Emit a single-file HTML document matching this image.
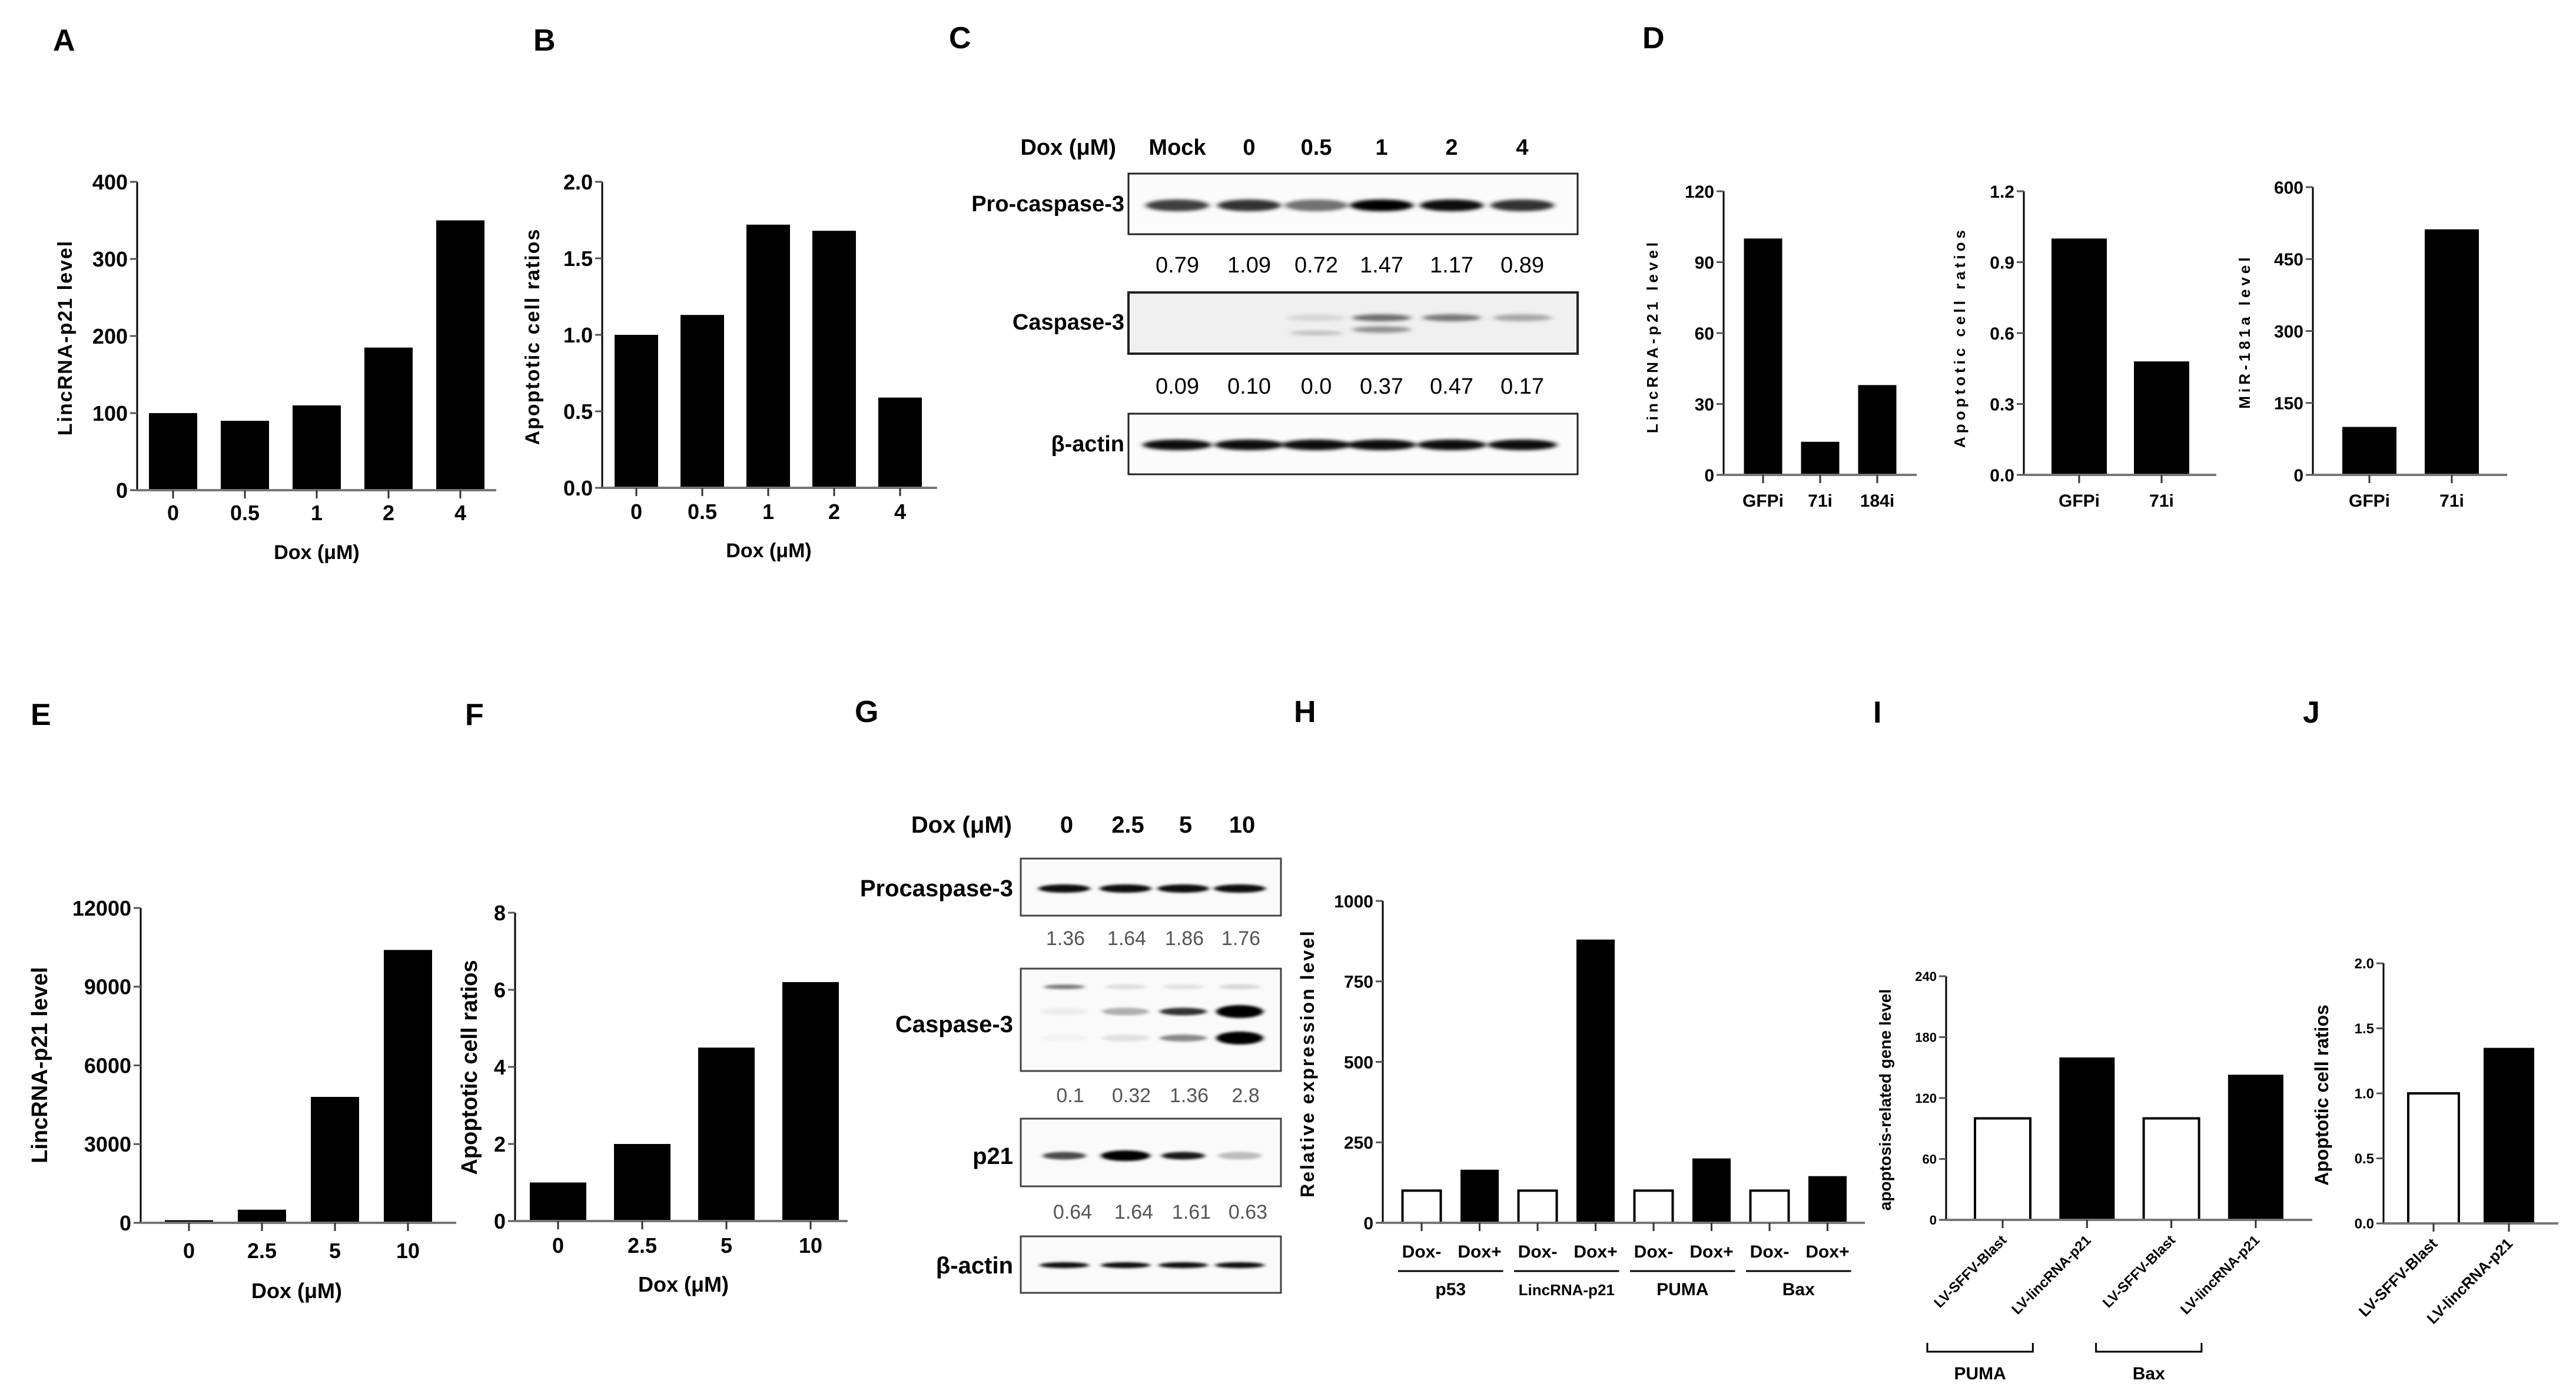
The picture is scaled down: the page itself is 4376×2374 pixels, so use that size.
<!DOCTYPE html>
<html><head><meta charset="utf-8">
<style>
html,body{margin:0;padding:0;background:#fff}
svg{display:block}
.nar{font-family:"Liberation Sans",sans-serif;font-weight:bold}
.reg{font-family:"Liberation Sans",sans-serif;font-weight:bold}
</style></head>
<body>
<svg id="fig" xmlns="http://www.w3.org/2000/svg" width="4376" height="2374" viewBox="0 0 4376 2374">
<defs>
<filter id="blur" x="-20%" y="-100%" width="140%" height="300%"><feGaussianBlur stdDeviation="5 3"/></filter>
<filter id="blur2" x="-20%" y="-100%" width="140%" height="300%"><feGaussianBlur stdDeviation="4 2"/></filter>
</defs>
<g class="reg" font-size="52">
<text x="90" y="86">A</text>
<text x="906" y="86">B</text>
<text x="1612" y="82">C</text>
<text x="2790" y="82">D</text>
<text x="52" y="1232">E</text>
<text x="790" y="1232">F</text>
<text x="1452" y="1227">G</text>
<text x="2198" y="1227">H</text>
<text x="3182" y="1228">I</text>
<text x="3912" y="1228">J</text>
</g>
<g id="charts"></g>
<g id="blots"></g>
</svg>
<script>
// ---- Data arrays ----
const catsA = ["0","0.5","1","2","4"];
const valsA = [100, 90, 110, 185, 350];
const ticksA = [0,100,200,300,400];
const catsB = ["0","0.5","1","2","4"];
const valsB = [1.0, 1.13, 1.72, 1.68, 0.59];
const ticksB = ["0.0","0.5","1.0","1.5","2.0"];
const catsD1 = ["GFPi","71i","184i"];
const valsD1 = [100, 14, 38];
const ticksD1 = [0,30,60,90,120];
const catsD2 = ["GFPi","71i"];
const valsD2 = [1.0, 0.48];
const ticksD2 = ["0.0","0.3","0.6","0.9","1.2"];
const catsD3 = ["GFPi","71i"];
const valsD3 = [100, 512];
const ticksD3 = [0,150,300,450,600];
const catsE = ["0","2.5","5","10"];
const valsE = [100, 500, 4800, 10400];
const ticksE = [0,3000,6000,9000,12000];
const catsF = ["0","2.5","5","10"];
const valsF = [1.0, 2.0, 4.5, 6.2];
const ticksF = [0,2,4,6,8];
const catsH = ["Dox-","Dox+","Dox-","Dox+","Dox-","Dox+","Dox-","Dox+"];
const valsH = [100, 165, 100, 880, 100, 200, 100, 145];
const groupsH = ["p53","LincRNA-p21","PUMA","Bax"];
const ticksH = [0,250,500,750,1000];
const catsI = ["LV-SFFV-Blast","LV-lincRNA-p21","LV-SFFV-Blast","LV-lincRNA-p21"];
const valsI = [100, 160, 100, 143];
const groupsI = ["PUMA","Bax"];
const ticksI = [0,60,120,180,240];
const catsJ = ["LV-SFFV-Blast","LV-lincRNA-p21"];
const valsJ = [1.0, 1.35];
const ticksJ = ["0.0","0.5","1.0","1.5","2.0"];
const lanesC = ["Mock","0","0.5","1","2","4"];
const quantC1 = ["0.79","1.09","0.72","1.47","1.17","0.89"];
const quantC2 = ["0.09","0.10","0.0","0.37","0.47","0.17"];
const lanesG = ["0","2.5","5","10"];
const quantG1 = ["1.36","1.64","1.86","1.76"];
const quantG2 = ["0.1","0.32","1.36","2.8"];
const quantG3 = ["0.64","1.64","1.61","0.63"];

const NS="http://www.w3.org/2000/svg";
function el(tag, attrs, parent, txt){
  const e=document.createElementNS(NS,tag);
  for(const k in attrs) e.setAttribute(k, attrs[k]);
  if(txt!==undefined) e.textContent=txt;
  parent.appendChild(e); return e;
}
const charts=document.getElementById('charts');

function barChart(o){
  const g=el('g',{class:o.cls},charts);
  
  
  const tmax=parseFloat(o.ticks[o.ticks.length-1]);
  const y=v=>o.yBot-(v/tmax)*(o.yBot-o.yTop);
  const x=i=>o.first+i*o.step;
  o.vals.forEach((v,i)=>{
    const fill=o.fills?o.fills[i%o.fills.length]:'#000';
    const r=el('rect',{x:x(i)-o.bw/2,y:y(v),width:o.bw,height:o.yBot-y(v),fill:fill,stroke:'#000','stroke-width':fill==='#fff'?4:0},g);
    
    
  });
  const ya=el('line',{x1:o.axisX,y1:o.yTop,x2:o.axisX,y2:o.yBot,stroke:'#000','stroke-width':3},g);
  
  
  const xa=el('line',{x1:o.axisX,y1:o.yBot,x2:o.xEnd,y2:o.yBot,stroke:'#777','stroke-width':4},g);
  
  
  o.ticks.forEach(t=>{
    const yy=y(parseFloat(t));
    el('line',{x1:o.axisX-12,y1:yy,x2:o.axisX,y2:yy,stroke:'#555','stroke-width':3},g);
    const tl=el('text',{x:o.axisX-16,y:yy+o.tf*0.36,'text-anchor':'end','font-size':o.tf},g,String(t));
    
    
  });
  o.cats.forEach((c,i)=>{
    el('line',{x1:x(i),y1:o.yBot,x2:x(i),y2:o.yBot+14,stroke:'#333','stroke-width':3},g);
    let t;
    if(o.rot){
      t=el('text',{x:x(i)+8,y:o.yBot+36,'text-anchor':'end','font-size':o.xf,transform:`rotate(-45 ${x(i)+8} ${o.yBot+36})`},g,c);
    } else {
      t=el('text',{x:x(i),y:o.xly+o.xf*0.36,'text-anchor':'middle','font-size':o.xf},g,c);
    }
    
    
  });
  if(o.xtitle){
    const t=el('text',{x:o.xtx,y:o.xty+o.xtf*0.36,'text-anchor':'middle','font-size':o.xtf},g,o.xtitle);
    
    
  }
  const yt=el('text',{x:o.ytx,y:o.yty,'text-anchor':'middle','font-size':o.ytf,transform:`rotate(-90 ${o.ytx} ${o.yty})`,'letter-spacing':o.ls||0},g,o.ytitle);
  
  
  return {g,x,y};
}

barChart({name:'chart-a',cls:'nar',cats:catsA,vals:valsA,ticks:ticksA,axisX:233,yTop:309,yBot:833,xEnd:843,first:294,step:122,bw:82,tf:36,xf:36,xly:871,xtitle:'Dox (μM)',xtx:538,xty:938,xtf:34,ytitle:'LincRNA-p21 level',ytx:122,yty:574,ytf:34,ls:2});
barChart({name:'chart-b',cls:'nar',cats:catsB,vals:valsB,ticks:ticksB,axisX:1023,yTop:309,yBot:829,xEnd:1592,first:1081,step:112,bw:74,tf:36,xf:36,xly:869,xtitle:'Dox (μM)',xtx:1306,xty:935,xtf:34,ytitle:'Apoptotic cell ratios',ytx:916,yty:572,ytf:34,ls:2});
barChart({name:'chart-d-lincrna',cls:'nar',cats:catsD1,vals:valsD1,ticks:ticksD1,axisX:2928,yTop:325,yBot:807,xEnd:3256,first:2995,step:97,bw:65,tf:30,xf:30,xly:850,ytitle:'LincRNA-p21 level',ytx:2816,yty:571,ytf:26,ls:6});
barChart({name:'chart-d-apoptotic',cls:'nar',cats:catsD2,vals:valsD2,ticks:ticksD2,axisX:3438,yTop:325,yBot:807,xEnd:3765,first:3532,step:140,bw:94,tf:30,xf:30,xly:850,ytitle:'Apoptotic cell ratios',ytx:3338,yty:573,ytf:26,ls:6});
barChart({name:'chart-d-mir181a',cls:'nar',cats:catsD3,vals:valsD3,ticks:ticksD3,axisX:3929,yTop:318,yBot:807,xEnd:4259,first:4025,step:140,bw:92,tf:30,xf:30,xly:850,ytitle:'MiR-181a level',ytx:3822,yty:563,ytf:26,ls:6});
barChart({name:'chart-e',cls:'reg',cats:catsE,vals:valsE,ticks:ticksE,axisX:239,yTop:1543,yBot:2078,xEnd:775,first:321,step:124,bw:82,tf:36,xf:36,xly:2125,xtitle:'Dox (μM)',xtx:504,xty:2193,xtf:36,ytitle:'LincRNA-p21 level',ytx:80,yty:1810,ytf:38});
barChart({name:'chart-f',cls:'reg',cats:catsF,vals:valsF,ticks:ticksF,axisX:875,yTop:1551,yBot:2075,xEnd:1440,first:948,step:143,bw:96,tf:36,xf:36,xly:2116,xtitle:'Dox (μM)',xtx:1161,xty:2182,xtf:36,ytitle:'Apoptotic cell ratios',ytx:810,yty:1814,ytf:38});
const hC=barChart({name:'chart-h',cls:'nar',cats:catsH,vals:valsH,ticks:ticksH,fills:['#fff','#000'],axisX:2349,yTop:1531,yBot:2078,xEnd:3168,first:2415,step:98.5,bw:65,tf:30,xf:30,xly:2126,ytitle:'Relative expression level',ytx:2232,yty:1807,ytf:32,ls:3});
groupsH.forEach((gname,k)=>{
  const x1=hC.x(2*k)-40, x2=hC.x(2*k+1)+40;
  el('line',{x1:x1,y1:2160,x2:x2,y2:2160,stroke:'#000','stroke-width':3},hC.g);
  const t=el('text',{x:(x1+x2)/2,y:2201,'text-anchor':'middle','font-size':k===1?26:30},hC.g,gname);
  
  
});
const iC=barChart({name:'chart-i',cls:'reg',rot:true,cats:catsI,vals:valsI,ticks:ticksI,fills:['#fff','#000'],axisX:3306,yTop:1659,yBot:2073,xEnd:3928,first:3402,step:143.3,bw:94,tf:22,xf:24,ytitle:'apoptosis-related gene level',ytx:3212,yty:1869,ytf:28});
groupsI.forEach((gname,k)=>{
  const x1=iC.x(2*k)-128, x2=iC.x(2*k+1)-92;
  el('path',{d:`M${x1} 2282 V2297 H${x2} V2282`,fill:'none',stroke:'#000','stroke-width':3},iC.g);
  const t=el('text',{x:(x1+x2)/2,y:2344,'text-anchor':'middle','font-size':30},iC.g,gname);
  
  
});
barChart({name:'chart-j',cls:'reg',rot:true,cats:catsJ,vals:valsJ,ticks:ticksJ,fills:['#fff','#000'],axisX:4049,yTop:1637,yBot:2079,xEnd:4346,first:4134,step:128,bw:86,tf:24,xf:26,ytitle:'Apoptotic cell ratios',ytx:3955,yty:1861,ytf:32});

// ---- Blots ----
const blots=document.getElementById('blots');
function band(parent,cx,cy,w,h,op,f){
  el('ellipse',{cx:cx,cy:cy,rx:w/2,ry:h/2,fill:'#000','fill-opacity':op,filter:f||'url(#blur)'},parent);
}
// Panel C
const gc=el('g',{class:'nar'},blots);


const cLaneX=[2000,2122,2236,2347,2466,2586];
el('text',{x:1896,y:263,'text-anchor':'end','font-size':38},gc,'Dox (μM)');
lanesC.forEach((l,i)=>el('text',{x:cLaneX[i],y:263,'text-anchor':'middle','font-size':38},gc,l));
[[295,398,'Pro-caspase-3',346],[497,601,'Caspase-3',547],[703,806,'β-actin',754]].forEach(([y1,y2,lab,ly],k)=>{
  el('rect',{x:1917,y:y1,width:763,height:y2-y1,fill:k===1?'#f0f0f0':'#fbfbfb',stroke:'#222','stroke-width':k===1?4:3},gc);
  const t=el('text',{x:1910,y:ly+13,'text-anchor':'end','font-size':38},gc,lab);
  
  
});
const proC=[0.75,0.8,0.55,1,0.95,0.8];
cLaneX.forEach((x,i)=>{band(gc,x,349,108,20,proC[i]);band(gc,x,756,118,18,0.95);});
[0,0,0.1,0.55,0.5,0.3].forEach((o,i)=>{if(o)band(gc,cLaneX[i],540,100,12,o);});
band(gc,cLaneX[3],560,100,11,0.4);band(gc,cLaneX[2],566,90,8,0.2);
quantC1.forEach((q,i)=>el('text',{x:cLaneX[i],y:463,'text-anchor':'middle','font-size':38,'font-weight':'normal'},gc,q));
quantC2.forEach((q,i)=>el('text',{x:cLaneX[i],y:669,'text-anchor':'middle','font-size':38,'font-weight':'normal'},gc,q));
// Panel G
const gg=el('g',{class:'reg'},blots);


const gLaneX=[1808,1912,2010,2106];
el('text',{x:1719,y:1415,'text-anchor':'end','font-size':40},gg,'Dox (μM)');
lanesG.forEach((l,i)=>el('text',{x:gLaneX[i]+4,y:1415,'text-anchor':'middle','font-size':40},gg,l));
[[1459,1556,'Procaspase-3',1509],[1646,1820,'Caspase-3',1740],[1901,2016,'p21',1964],[2101,2197,'β-actin',2150]].forEach(([y1,y2,lab,ly])=>{
  el('rect',{x:1734,y:y1,width:442,height:y2-y1,fill:'#fafafa',stroke:'#444','stroke-width':3},gg);
  const t=el('text',{x:1721,y:ly+14,'text-anchor':'end','font-size':40},gg,lab);
  
  
});
gLaneX.forEach((x,i)=>{band(gg,x,1510,88,14,0.95,'url(#blur2)');band(gg,x,2150,84,10,0.95,'url(#blur2)');});
[0.5,0.12,0.1,0.15].forEach((o,i)=>band(gg,gLaneX[i],1677,70,8,o,'url(#blur2)'));
[0.05,0.3,0.8,1].forEach((o,i)=>band(gg,gLaneX[i],1719,80,o>0.9?22:13,o,'url(#blur2)'));
[0.03,0.1,0.45,1].forEach((o,i)=>band(gg,gLaneX[i],1764,80,o>0.9?22:12,o,'url(#blur2)'));
[0.7,1,0.9,0.25].forEach((o,i)=>band(gg,gLaneX[i],1964,i===1?84:74,i===1?18:13,o,'url(#blur2)'));
const qStyle={'text-anchor':'middle','font-size':34,'font-weight':'normal',fill:'#555'};
quantG1.forEach((q,i)=>el('text',Object.assign({x:gLaneX[i]+2,y:1606},qStyle),gg,q));
quantG2.forEach((q,i)=>el('text',Object.assign({x:gLaneX[i]+10,y:1873},qStyle),gg,q));
quantG3.forEach((q,i)=>el('text',Object.assign({x:gLaneX[i]+14,y:2071},qStyle),gg,q));
</script>
</body></html>
